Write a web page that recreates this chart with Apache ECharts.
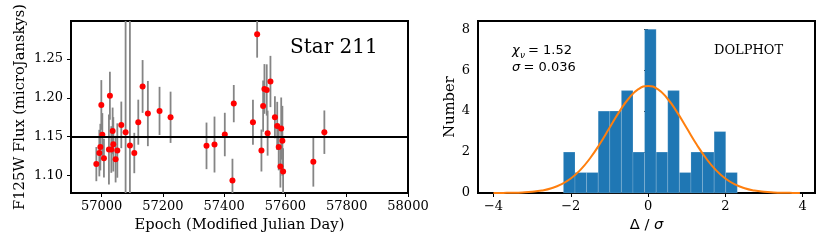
<!DOCTYPE html>
<html>
<head>
<meta charset="utf-8">
<script src="https://cdn.jsdelivr.net/npm/echarts@6/dist/echarts.min.js"></script>
<style>
html,body{margin:0;padding:0;background:#fff;}
#chart{width:830px;height:249px;}
</style>
</head>
<body>
<div id="chart"></div>
<script>
// ---- Left panel: light curve ----
const epochs = [56982.7, 56992.5, 56995.8, 56999.0, 57002.3, 57007.5, 57023.8, 57027.0, 57031.6, 57035.9, 57038.1, 57045.6, 57051.2, 57064.2, 57078.2, 57092.3, 57106.6, 57119.6, 57133.7, 57150.9, 57189.0, 57225.0, 57342.3, 57368.4, 57402.0, 57427.0, 57431.3, 57493.9, 57507.6, 57521.6, 57527.1, 57531.4, 57538.9, 57541.8, 57551.0, 57565.6, 57573.1, 57578.0, 57583.5, 57586.1, 57590.0, 57592.3, 57691.0, 57727.0];
const flux = [1.1147, 1.1289, 1.1366, 1.1909, 1.1524, 1.1224, 1.1335, 1.2028, 1.1335, 1.1575, 1.1402, 1.1211, 1.1322, 1.1652, 1.1558, 1.1386, 1.1290, 1.1687, 1.2147, 1.1798, 1.1832, 1.1750, 1.1382, 1.1399, 1.1528, 1.0936, 1.1926, 1.1687, 1.2818, 1.1322, 1.1894, 1.2115, 1.2102, 1.1546, 1.2211, 1.1751, 1.1639, 1.1367, 1.1115, 1.1605, 1.1447, 1.1052, 1.1177, 1.1558];
const fluxErr = [0.022, 0.030, 0.030, 0.032, 0.028, 0.025, 0.045, 0.031, 0.030, 0.030, 0.035, 0.030, 0.035, 0.030, 0.50, 0.50, 0.026, 0.029, 0.034, 0.042, 0.031, 0.033, 0.030, 0.036, 0.028, 0.028, 0.024, 0.029, 0.030, 0.027, 0.033, 0.032, 0.033, 0.029, 0.033, 0.027, 0.031, 0.030, 0.027, 0.040, 0.045, 0.030, 0.032, 0.028];
const meanFlux = 1.1533;
const leftXTicks = [57000, 57200, 57400, 57600, 57800, 58000];
const leftYTicks = [1.10, 1.15, 1.20, 1.25];

// ---- Right panel: histogram of deviations ----
const binEdges = [-2.19, -1.89, -1.59, -1.29, -0.99, -0.69, -0.39, -0.09, 0.21, 0.51, 0.81, 1.11, 1.41, 1.71, 2.01, 2.31];
const binCounts = [2, 1, 1, 4, 4, 5, 2, 8, 2, 5, 1, 2, 2, 3, 1];
const curveX = [-4.0, -3.75, -3.5, -3.25, -3.0, -2.75, -2.5, -2.25, -2.0, -1.75, -1.5, -1.25, -1.0, -0.75, -0.5, -0.25, 0, 0.25, 0.5, 0.75, 1.0, 1.25, 1.5, 1.75, 2.0, 2.25, 2.5, 2.75, 3.0, 3.25, 3.5, 3.75, 3.93];
const curveY = [0.00, 0.005, 0.011, 0.027, 0.058, 0.119, 0.230, 0.416, 0.708, 1.131, 1.698, 2.394, 3.172, 3.948, 4.615, 5.069, 5.23, 5.069, 4.615, 3.948, 3.172, 2.394, 1.698, 1.131, 0.708, 0.416, 0.230, 0.119, 0.058, 0.027, 0.011, 0.005, 0.003];
const rightXTicks = [-4, -2, 0, 2, 4];
const rightYTicks = [0, 2, 4, 6, 8];

const SERIF = 'DejaVu Serif';
const SANS = 'DejaVu Sans';

const errData = epochs.map((e, i) => [e, flux[i] - fluxErr[i], flux[i] + fluxErr[i]]);
const ptData = epochs.map((e, i) => [e, flux[i]]);
const histData = binCounts.map((c, i) => [binEdges[i], binEdges[i + 1], c]);
const curveData = curveX.map((x, i) => [x, curveY[i]]);

const minus = v => (v < 0 ? '\u2212' + (-v) : String(v));

function tickAxis(extra) {
  return Object.assign({
    type: 'value',
    axisLine: { show: false },
    splitLine: { show: false },
    nameLocation: 'middle',
    nameTextStyle: { fontFamily: SERIF, fontSize: 14.7, color: '#000' }
  }, extra);
}
function ticks(vals) {
  return { show: true, inside: false, length: 4, lineStyle: { color: '#000', width: 1 }, customValues: vals };
}
function labels(vals, fmt, margin) {
  return { fontFamily: SERIF, fontSize: 13, color: '#000', margin: margin, customValues: vals, formatter: fmt };
}

const chart = echarts.init(document.getElementById('chart'), null, { renderer: 'canvas' });
chart.setOption({
  animation: false,
  backgroundColor: '#fff',
  grid: [
    { left: 71, top: 21, width: 337, height: 172, show: true, borderColor: '#000', borderWidth: 2, backgroundColor: 'transparent' },
    { left: 478, top: 21, width: 337, height: 172, show: true, borderColor: '#000', borderWidth: 2, backgroundColor: 'transparent' }
  ],
  xAxis: [
    tickAxis({ gridIndex: 0, min: 56900, max: 58000,
      axisTick: ticks(leftXTicks),
      axisLabel: labels(leftXTicks, v => String(v), 7),
      name: 'Epoch (Modified Julian Day)', nameGap: 25 }),
    tickAxis({ gridIndex: 1, min: -4.4, max: 4.32,
      axisTick: ticks(rightXTicks),
      axisLabel: labels(rightXTicks, minus, 7),
      name: '{a|\u0394 / }{b|\u03c3}', nameGap: 25,
      nameTextStyle: { rich: { a: { fontFamily: SANS, fontSize: 14.7, color: '#000' }, b: { fontFamily: SANS, fontSize: 14.7, fontStyle: 'italic', color: '#000' } } } })
  ],
  yAxis: [
    tickAxis({ gridIndex: 0, min: 1.0775, max: 1.299,
      axisTick: ticks(leftYTicks),
      axisLabel: labels(leftYTicks, v => v.toFixed(2), 8),
      name: 'F125W Flux (microJanskys)', nameGap: 43 }),
    tickAxis({ gridIndex: 1, min: 0, max: 8.4,
      axisTick: ticks(rightYTicks),
      axisLabel: labels(rightYTicks, v => String(v), 8),
      name: 'Number', nameGap: 20 })
  ],
  series: [
    {
      type: 'custom', xAxisIndex: 0, yAxisIndex: 0, z: 2,
      encode: { x: 0, y: [1, 2] },
      data: errData,
      renderItem: function (params, api) {
        const x = api.value(0), lo = api.value(1), hi = api.value(2);
        const p1 = api.coord([x, hi]);
        const p2 = api.coord([x, lo]);
        const cs = params.coordSys;
        return {
          type: 'line',
          shape: { x1: p1[0], y1: Math.max(p1[1], cs.y), x2: p2[0], y2: Math.min(p2[1], cs.y + cs.height) },
          style: { stroke: '#858585', lineWidth: 1.8 }
        };
      }
    },
    {
      type: 'scatter', xAxisIndex: 0, yAxisIndex: 0, z: 4,
      symbol: 'circle', symbolSize: 6,
      itemStyle: { color: '#ff0000', opacity: 1, borderWidth: 0 },
      data: ptData,
      markLine: {
        silent: true, symbol: 'none', animation: false,
        label: { show: false },
        lineStyle: { color: '#000', width: 2, type: 'solid', opacity: 1 },
        data: [{ yAxis: meanFlux }]
      }
    },
    {
      type: 'custom', xAxisIndex: 1, yAxisIndex: 1, z: 2,
      encode: { x: [0, 1], y: 2 },
      data: histData,
      renderItem: function (params, api) {
        const p0 = api.coord([api.value(0), api.value(2)]);
        const p1 = api.coord([api.value(1), 0]);
        return {
          type: 'rect',
          shape: { x: p0[0], y: p0[1], width: p1[0] - p0[0], height: p1[1] - p0[1] },
          style: { fill: '#1f77b4', stroke: 'rgba(255,255,255,0.15)', lineWidth: 1 }
        };
      }
    },
    {
      type: 'line', xAxisIndex: 1, yAxisIndex: 1, z: 5,
      smooth: true, showSymbol: false, symbol: 'none',
      lineStyle: { color: '#ff7f0e', width: 2 },
      data: curveData
    }
  ],
  graphic: [
    { type: 'text', left: 290, top: 38, style: { text: 'Star 211', font: '20px "DejaVu Serif"', fill: '#000' } },
    { type: 'text', left: 714, top: 44, style: { text: 'DOLPHOT', font: '13px "DejaVu Serif"', fill: '#000' } },
    { type: 'text', left: 512, top: 44, style: { text: '\u03c7', font: 'italic 13px "DejaVu Sans"', fill: '#000' } },
    { type: 'text', left: 520, top: 51, style: { text: '\u03bd', font: 'italic 9px "DejaVu Sans"', fill: '#000' } },
    { type: 'text', left: 528, top: 44, style: { text: '= 1.52', font: '13px "DejaVu Sans"', fill: '#000' } },
    { type: 'text', left: 512, top: 61, style: { text: '\u03c3', font: 'italic 13px "DejaVu Sans"', fill: '#000' } },
    { type: 'text', left: 523.5, top: 61, style: { text: '= 0.036', font: '13px "DejaVu Sans"', fill: '#000' } }
  ]
});
</script>
</body>
</html>
